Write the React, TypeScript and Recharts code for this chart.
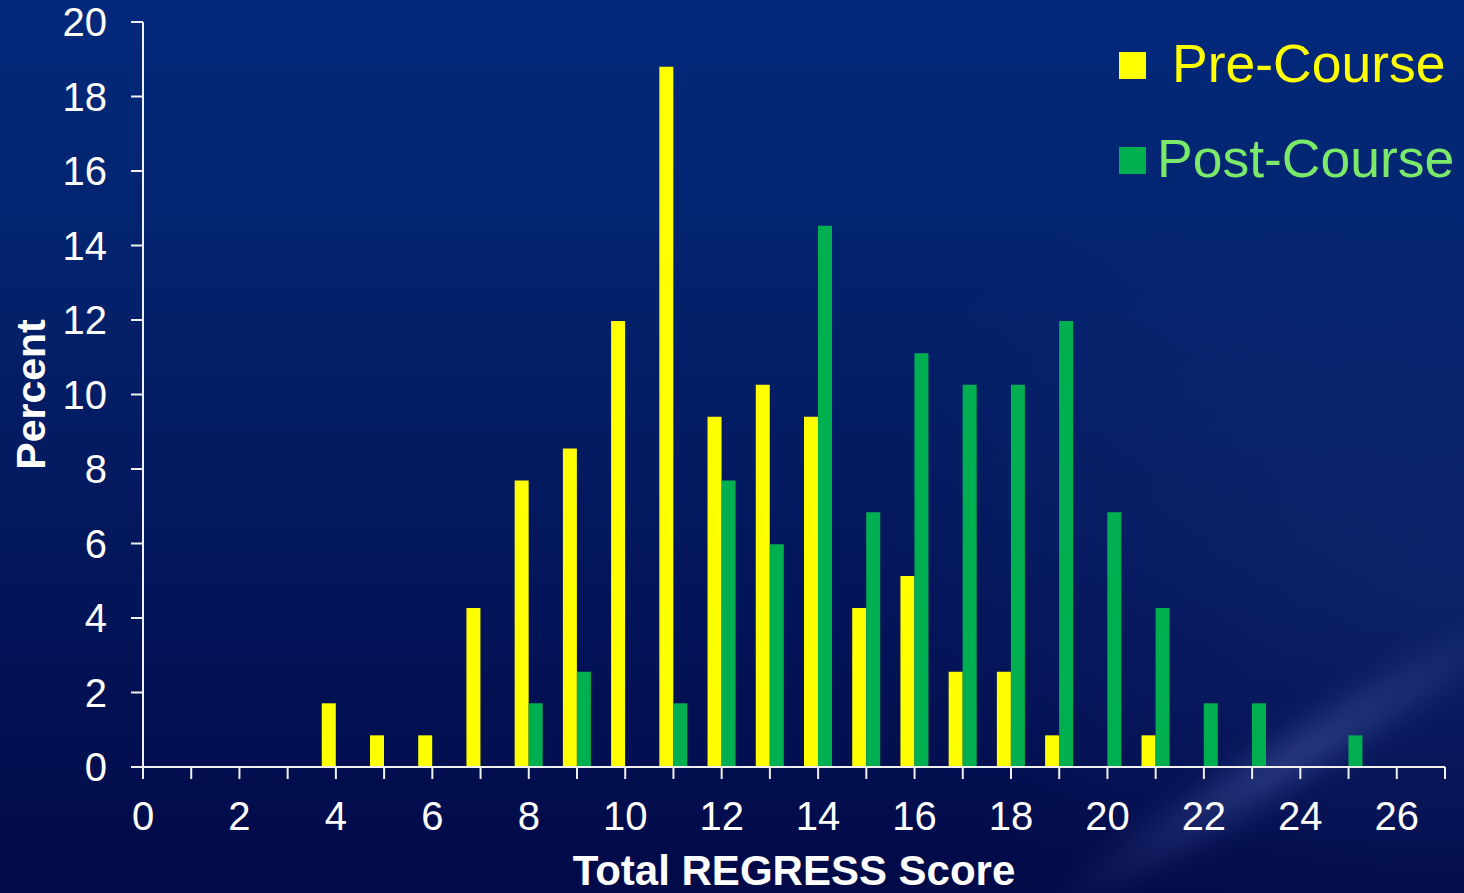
import React from 'react';
import { BarChart, Bar, XAxis, YAxis, Legend } from 'recharts';

// Total REGRESS score (x) and percent of participants in each score
const scores = [4, 5, 6, 7, 8, 9, 10, 11, 12, 13, 14, 15, 16, 17, 18, 19, 20, 21, 22, 23, 24, 25];
const preCourse = [1.71, 0.85, 0.85, 4.27, 7.69, 8.55, 11.97, 18.8, 9.4, 10.26, 9.4, 4.27, 5.13, 2.56, 2.56, 0.85, null, 0.85, null, null, null, null];
const postCourse = [null, null, null, null, 1.71, 2.56, null, 1.71, 7.69, 5.98, 14.53, 6.84, 11.11, 10.26, 10.26, 11.97, 6.84, 4.27, 1.71, 1.71, null, 0.85];

const xTicks = [0, 1, 2, 3, 4, 5, 6, 7, 8, 9, 10, 11, 12, 13, 14, 15, 16, 17, 18, 19, 20, 21, 22, 23, 24, 25, 26, 27];
const xLabels = [0, 2, 4, 6, 8, 10, 12, 14, 16, 18, 20, 22, 24, 26];
const yTicks = [0, 2, 4, 6, 8, 10, 12, 14, 16, 18, 20];

const seriesNames = ['Pre-Course', 'Post-Course'];
const barColors = ['#FFFF00', '#00B050'];
const legendTextColors = ['#FFFF00', '#7BEA6B'];
const legendTextX = [72, 57];

const data = scores.map((score, i) => ({ score, pre: preCourse[i], post: postCourse[i] }));

const FONT = '"Liberation Sans", Arial, Helvetica, sans-serif';
const AXIS_COLOR = '#F0F0F0';

const renderLegend = (props: any) => {
  const payload = props.payload || [];
  return (
    <svg width={364} height={170} style={{ display: 'block' }}>
      {payload.map((entry: any) => {
        const i = seriesNames.indexOf(entry.value);
        return (
          <g key={entry.value}>
            <rect x={19} y={22 + i * 95} width={27} height={27} fill={barColors[i]} />
            <text
              x={legendTextX[i]}
              y={52 + i * 95}
              fill={legendTextColors[i]}
              fontSize={53.5}
              fontFamily={FONT}
            >
              {entry.value}
            </text>
          </g>
        );
      })}
    </svg>
  );
};

const XTitle = (props: any) => {
  const vb = props.viewBox || {};
  return (
    <text
      x={vb.x + vb.width / 2}
      y={vb.y + 118}
      textAnchor="middle"
      fill="#FFFFFF"
      fontSize={42}
      fontWeight="bold"
      fontFamily={FONT}
    >
      Total REGRESS Score
    </text>
  );
};

const YTitle = (props: any) => {
  const vb = props.viewBox || {};
  const cx = vb.x + 45;
  const cy = vb.y + vb.height / 2;
  return (
    <text
      x={cx}
      y={cy}
      transform={`rotate(-90, ${cx}, ${cy})`}
      textAnchor="middle"
      fill="#FFFFFF"
      fontSize={41}
      fontWeight="bold"
      fontFamily={FONT}
    >
      Percent
    </text>
  );
};

export default function App() {
  return (
    <div
      style={{
        position: 'absolute',
        left: 0,
        top: 0,
        width: 1464,
        height: 893,
        overflow: 'hidden',
        background:
          'linear-gradient(180deg, #04297C 0%, #03246F 25%, #041B62 50%, #031255 75%, #020A48 100%)',
      }}
    >
      {/* soft lighter area on the right side */}
      <div
        style={{
          position: 'absolute',
          left: 0,
          top: 0,
          width: 1464,
          height: 893,
          background:
            'radial-gradient(ellipse 600px 450px at 100% 62%, rgba(40,70,150,0.28) 0%, rgba(40,70,150,0) 100%)',
        }}
      />
      {/* diagonal light streak in the lower right */}
      <div
        style={{
          position: 'absolute',
          left: 1290 - 300,
          top: 760 - 40,
          width: 600,
          height: 80,
          transform: 'rotate(-32deg)',
          background:
            'radial-gradient(ellipse at center, rgba(120,140,215,0.30) 0%, rgba(110,130,210,0.12) 40%, rgba(110,130,210,0) 70%)',
          filter: 'blur(8px)',
        }}
      />
      <div style={{ position: 'absolute', left: 0, top: 0 }}>
        <BarChart
          width={1464}
          height={893}
          data={data}
          margin={{ top: 22, right: 19, left: 0, bottom: 0 }}
          barGap={0}
          barSize={14}
        >
          <XAxis
            dataKey="score"
            type="number"
            domain={[0, 27]}
            ticks={xTicks}
            interval={0}
            allowDecimals={false}
            height={126}
            tickSize={12}
            tickMargin={23}
            tickFormatter={(v: number) => (xLabels.includes(v) ? String(v) : '')}
            axisLine={{ stroke: AXIS_COLOR, strokeWidth: 2 }}
            tickLine={{ stroke: AXIS_COLOR, strokeWidth: 2 }}
            tick={{ fill: '#FFFFFF', fontSize: 40, fontFamily: FONT }}
            label={{ content: XTitle }}
          />
          <YAxis
            type="number"
            domain={[0, 20]}
            ticks={yTicks}
            interval={0}
            width={143}
            tickSize={12}
            tickMargin={24}
            axisLine={{ stroke: AXIS_COLOR, strokeWidth: 2 }}
            tickLine={{ stroke: AXIS_COLOR, strokeWidth: 2 }}
            tick={{ fill: '#FFFFFF', fontSize: 40, fontFamily: FONT }}
            label={{ content: YTitle }}
          />
          <Legend
            layout="horizontal"
            align="center"
            verticalAlign="middle"
            content={renderLegend}
            wrapperStyle={{ position: 'absolute', left: 1100, top: 30, width: 364, height: 170 }}
          />
          <Bar dataKey="pre" name={seriesNames[0]} fill={barColors[0]} isAnimationActive={false} />
          <Bar dataKey="post" name={seriesNames[1]} fill={barColors[1]} isAnimationActive={false} />
        </BarChart>
      </div>
    </div>
  );
}
